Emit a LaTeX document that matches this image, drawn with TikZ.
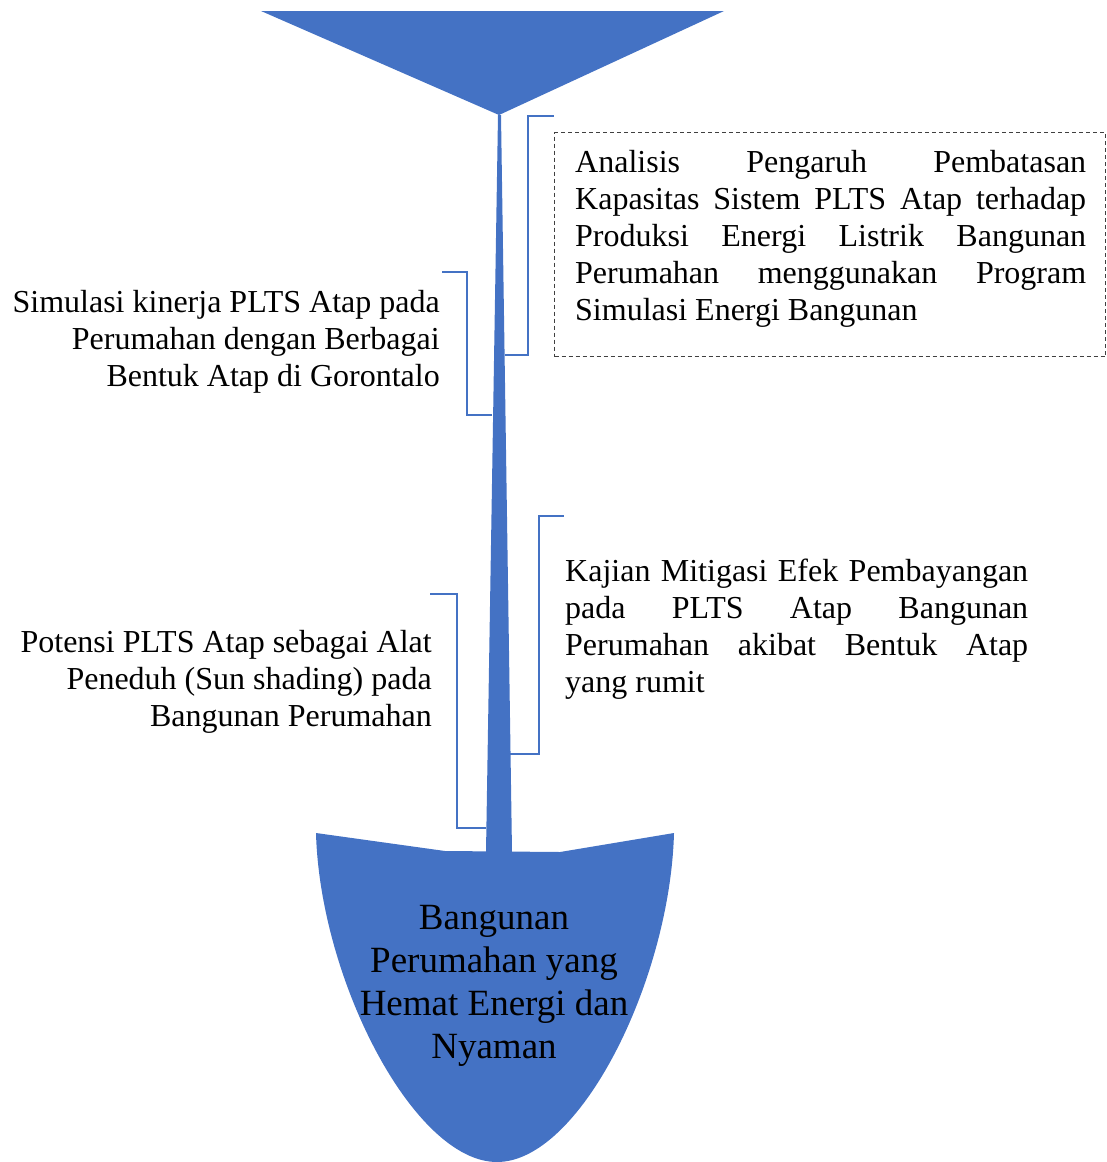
\documentclass[tikz,border=0pt]{standalone}
\usepackage{fontspec}
\setmainfont{Liberation Serif}
\usetikzlibrary{positioning}
\definecolor{spadeblue}{HTML}{4472C4}
\definecolor{boxline}{HTML}{404040}

\begin{document}
\begin{tikzpicture}[
  x=1pt, y=-1pt,
  spade/.style={fill=spadeblue, draw=none},
  bracket/.style={draw=spadeblue, line width=1.3pt},
  sidetext/.style={inner sep=0pt, font=\fontsize{32}{37}\selectfont},
  lefttext/.style={sidetext, align=right, anchor=north east},
  righttext/.style={sidetext, text width=#1, align=justify, anchor=north west},
  goaltext/.style={inner sep=0pt, align=center, anchor=north,
    font=\fontsize{37}{43}\selectfont},
  dashbox/.style={draw=boxline, dash pattern=on 4pt off 3pt, line width=1pt,
    anchor=north west, inner sep=0pt},
]
\useasboundingbox (0,0) rectangle (1106,1162);

% --- spade: funnel, handle, blade -----------------------------------
\fill[spade] (261,11) -- (724,11) -- (499,115) -- cycle;
\fill[spade] (498,115) -- (501,115) -- (512,852) -- (486,852) -- cycle;
\fill[spade] (316,833) -- (445,851) -- (560,852) -- (674,833)
  .. controls (670,980) and (580,1162) .. (497,1162)
  .. controls (414,1162) and (320,980) .. (316,833);

\node[goaltext] (goal) at (494,899)
  {\strut Bangunan\\Perumahan yang\\Hemat Energi dan\\Nyaman};

% --- labels ------------------------------------------------------------
\node[dashbox, minimum width=551pt, minimum height=224pt] (anabox) at (554,132) {};
\node[righttext=511pt] (ana) at (575,146) {%
  \strut Analisis Pengaruh Pembatasan\linebreak
  Kapasitas Sistem PLTS Atap terhadap\linebreak
  Produksi Energi Listrik Bangunan\linebreak
  Perumahan menggunakan Program\linebreak
  Simulasi Energi Bangunan};

\node[lefttext] (sim) at (440,286)
  {\strut Simulasi kinerja PLTS Atap pada\\Perumahan dengan Berbagai\\Bentuk Atap di Gorontalo};

\node[righttext=463pt] (kaj) at (565,555) {%
  \strut Kajian Mitigasi Efek Pembayangan\linebreak
  pada PLTS Atap Bangunan\linebreak
  Perumahan akibat Bentuk Atap\linebreak
  yang rumit};

\node[lefttext] (pot) at (432,626)
  {\strut Potensi PLTS Atap sebagai Alat\\Peneduh (Sun shading) pada\\Bangunan Perumahan};

% --- brackets from the handle ----------------------------------------
\coordinate (h1) at (505,355);  \coordinate (t1) at (554,116);
\coordinate (h2) at (492,415);  \coordinate (t2) at (442,272);
\coordinate (h3) at (510,754);  \coordinate (t3) at (564,516);
\coordinate (h4) at (486,828);  \coordinate (t4) at (430,594);

\draw[bracket] (h1) -- ++(23,0) |- (t1);
\draw[bracket] (h2) -- ++(-25,0) |- (t2);
\draw[bracket] (h3) -- ++(29,0) |- (t3);
\draw[bracket] (h4) -- ++(-29,0) |- (t4);

\end{tikzpicture}
\end{document}
